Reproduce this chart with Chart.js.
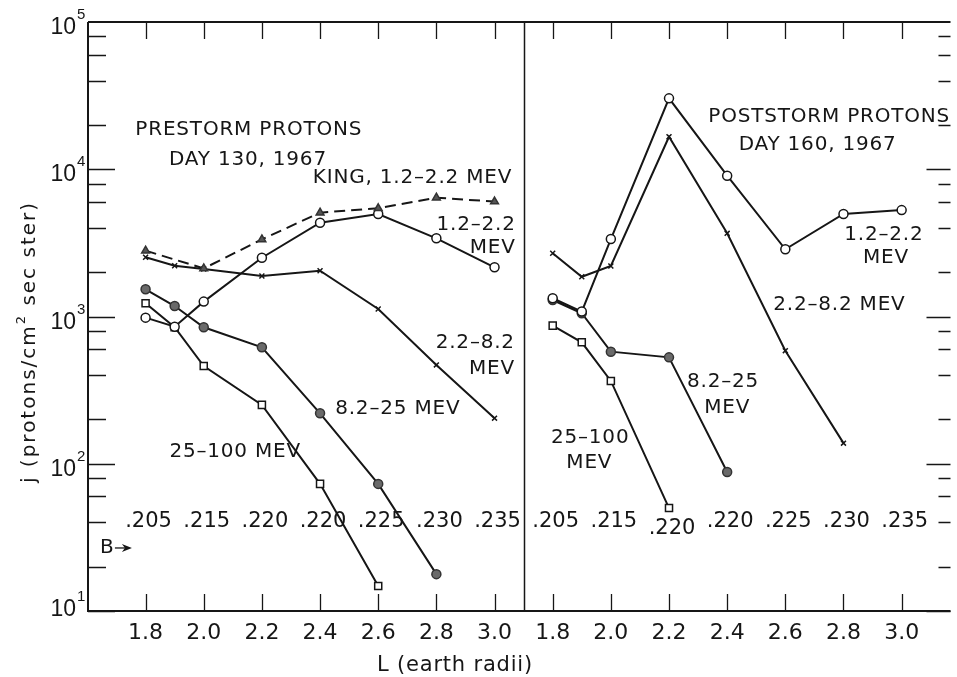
<!DOCTYPE html>
<html>
<head>
<meta charset="utf-8">
<script src="https://cdn.jsdelivr.net/npm/chart.js@4.4.1/dist/chart.umd.min.js"></script>
<style>
  html, body { margin: 0; padding: 0; background: #fff; }
  #wrap { width: 957px; height: 677px; }
</style>
</head>
<body>
<div id="wrap"><canvas id="chart" width="957" height="677"></canvas></div>
<script>
// L shells (earth radii) sampled in both panels
const shells = [1.8, 1.9, 2.0, 2.2, 2.4, 2.6, 2.8, 3.0];

// prestorm protons, day 130 1967 (null = no point)
const preKing  = [2800, null, 2120, 3340, 5070, 5430, 6410, 6030];
const pre12    = [982, 853, 1262, 2506, 4335, 4970, 3395, 2158];
const pre22    = [2523, 2213, 2103, 1885, 2047, 1125, 469, 204];
const pre82    = [1530, 1178, 845, 618, 220, 73, 17.8, null];
const pre25    = [1230, 845, 461, 251, 73, 14.8, null, null];

// poststorm protons, day 160 1967
const post12   = [1330, 1080, 3358, 30300, 9040, 2860, 4970, 5280];
const post22   = [2686, 1862, 2203, 16630, 3670, 586, 138, null];
const post82   = [1294, 1052, 577, 528, 88, null, null, null];
const post25   = [867, 668, 365, 50, null, null, null, null];

// axis ticks
const xTicks = [1.8, 2.0, 2.2, 2.4, 2.6, 2.8, 3.0];
const xTickLabels = ['1.8', '2.0', '2.2', '2.4', '2.6', '2.8', '3.0'];
const yDecades = [1, 2, 3, 4, 5];
const yMinor = [2, 4, 6, 8];

// B values printed along each panel at the ticked L shells
const bPre  = ['.205', '.215', '.220', '.220', '.225', '.230', '.235'];
const bPost = ['.205', '.215', '.220', '.220', '.225', '.230', '.235'];

// both panels share one linear axis; the right panel is shifted along it
const POST_SHIFT = 1.4;
const DIVIDER = 3.1;
const FONT = '"DejaVu Sans", sans-serif';
const NUMFONT = '"Liberation Sans", sans-serif';
const INK = '#161616';

function pts(vals, shift) {
  const out = [];
  shells.forEach((l, i) => {
    if (vals[i] != null) out.push({ x: l + shift, y: vals[i] });
  });
  return out;
}

const MARK = {
  open:   { pointStyle: 'circle', pointRadius: 4.5, pointBackgroundColor: '#fff', pointBorderColor: INK },
  filled: { pointStyle: 'circle', pointRadius: 4.5, pointBackgroundColor: '#6a6a6a', pointBorderColor: '#333' },
  cross:  { pointStyle: 'crossRot', pointRadius: 3.5, pointBackgroundColor: INK, pointBorderColor: INK },
  square: { pointStyle: 'rect', pointRadius: 5, pointBackgroundColor: '#fff', pointBorderColor: INK },
  tri:    { pointStyle: 'triangle', pointRadius: 4.5, pointBackgroundColor: '#555', pointBorderColor: '#333' }
};

function series(vals, shift, mark, dashed) {
  return Object.assign({
    data: pts(vals, shift),
    showLine: true,
    borderColor: INK,
    borderWidth: 2,
    borderDash: dashed ? [11, 6] : [],
    pointBorderWidth: 1.5,
    pointHoverRadius: 4.5,
    tension: 0
  }, MARK[mark]);
}

const datasets = [
  series(preKing, 0, 'tri', true),
  series(pre12, 0, 'open'),
  series(pre22, 0, 'cross'),
  series(pre82, 0, 'filled'),
  series(pre25, 0, 'square'),
  series(post12, POST_SHIFT, 'open'),
  series(post22, POST_SHIFT, 'cross'),
  series(post82, POST_SHIFT, 'filled'),
  series(post25, POST_SHIFT, 'square')
];

// text placed in data coordinates: u along the shared axis, lg = log10(j)
const notes = [
  { t: 'PRESTORM PROTONS', u: 2.155, lg: 4.267 },
  { t: 'DAY 130, 1967', u: 2.152, lg: 4.063 },
  { t: 'KING, 1.2–2.2 MEV', u: 2.718, lg: 3.941 },
  { t: '1.2–2.2', u: 3.073, lg: 3.621, align: 'right' },
  { t: 'MEV', u: 3.073, lg: 3.465, align: 'right' },
  { t: '2.2–8.2', u: 3.070, lg: 2.820, align: 'right' },
  { t: 'MEV', u: 3.070, lg: 2.643, align: 'right' },
  { t: '8.2–25 MEV', u: 2.452, lg: 2.372, align: 'left' },
  { t: '25–100 MEV', u: 1.882, lg: 2.080, align: 'left' },
  { t: 'POSTSTORM PROTONS', u: 3.735, lg: 4.355, align: 'left' },
  { t: 'DAY 160, 1967', u: 4.111, lg: 4.165 },
  { t: '1.2–2.2', u: 4.339, lg: 3.553 },
  { t: 'MEV', u: 4.346, lg: 3.397 },
  { t: '2.2–8.2 MEV', u: 4.186, lg: 3.078 },
  { t: '8.2–25', u: 3.786, lg: 2.555 },
  { t: 'MEV', u: 3.800, lg: 2.379 },
  { t: '25–100', u: 3.329, lg: 2.175 },
  { t: 'MEV', u: 3.326, lg: 2.005 }
];

function txt(ctx, str, px, py, align, size, spacing, family) {
  ctx.font = size + 'px ' + (family || FONT);
  ctx.letterSpacing = (spacing || 0) + 'px';
  ctx.textAlign = align || 'center';
  ctx.fillText(str, px, py);
}

// frame, inward ticks, tick labels, divider and lettering
const frame = {
  id: 'frame',
  afterDatasetsDraw(chart) {
    const { ctx, chartArea: a, scales: { x, y } } = chart;
    ctx.save();
    ctx.strokeStyle = INK;
    ctx.fillStyle = INK;
    ctx.lineCap = 'butt';

    ctx.lineWidth = 2;
    ctx.beginPath();
    ctx.moveTo(a.left, a.top);
    ctx.lineTo(a.left, a.bottom);
    ctx.lineTo(a.right, a.bottom);
    ctx.moveTo(a.left, a.top);
    ctx.lineTo(a.right, a.top);
    ctx.stroke();

    // panel divider
    const xd = Math.round(x.getPixelForValue(DIVIDER)) + 0.5;
    ctx.lineWidth = 1.5;
    ctx.beginPath();
    ctx.moveTo(xd, a.top);
    ctx.lineTo(xd, a.bottom);
    ctx.stroke();

    // x ticks, bottom and top, both panels
    ctx.lineWidth = 1.3;
    ctx.beginPath();
    [0, POST_SHIFT].forEach(s => {
      xTicks.forEach(t => {
        const px = Math.round(x.getPixelForValue(t + s)) + 0.5;
        ctx.moveTo(px, a.bottom);
        ctx.lineTo(px, a.bottom - 17);
        ctx.moveTo(px, a.top);
        ctx.lineTo(px, a.top + 17);
      });
    });
    ctx.stroke();

    // y ticks, left and right
    ctx.beginPath();
    yDecades.forEach(d => {
      if (d < 5) {
        const py = Math.round(y.getPixelForValue(Math.pow(10, d))) + 0.5;
        ctx.moveTo(a.left, py); ctx.lineTo(a.left + 27, py);
        ctx.moveTo(a.right, py); ctx.lineTo(a.right - 24, py);
        yMinor.forEach(m => {
          const pm = Math.round(y.getPixelForValue(m * Math.pow(10, d))) + 0.5;
          ctx.moveTo(a.left, pm); ctx.lineTo(a.left + 18, pm);
          ctx.moveTo(a.right, pm); ctx.lineTo(a.right - 12, pm);
        });
      }
    });
    ctx.stroke();

    // y tick labels 10^n
    ctx.textBaseline = 'alphabetic';
    yDecades.forEach(d => {
      const py = y.getPixelForValue(Math.pow(10, d));
      const base = Math.min(py + 12, a.bottom + 5);
      txt(ctx, '10', a.left - 12, base, 'right', 23, 0, NUMFONT);
      txt(ctx, String(d), a.left - 11, base - 15, 'left', 15, 0, NUMFONT);
    });

    // x tick labels
    [0, POST_SHIFT].forEach(s => {
      xTicks.forEach((t, i) => {
        txt(ctx, xTickLabels[i], x.getPixelForValue(t + s), a.bottom + 28, 'center', 22, 0);
      });
    });

    // axis titles
    txt(ctx, 'L (earth radii)', 455, 671, 'center', 21, 0.8);
    ctx.save();
    ctx.translate(30, 342);
    ctx.rotate(-Math.PI / 2);
    ctx.textBaseline = 'middle';
    ctx.font = '20px ' + FONT;
    ctx.letterSpacing = '2px';
    const left = 'j (protons/cm', sup = '2', right = ' sec ster)';
    const w1 = ctx.measureText(left).width;
    ctx.font = '13px ' + FONT;
    const w2 = ctx.measureText(sup).width;
    ctx.font = '20px ' + FONT;
    const w3 = ctx.measureText(right).width;
    let cx = -(w1 + w2 + w3) / 2;
    ctx.textAlign = 'left';
    ctx.fillText(left, cx, 0);
    cx += w1;
    ctx.font = '13px ' + FONT;
    ctx.fillText(sup, cx, -8);
    cx += w2;
    ctx.font = '20px ' + FONT;
    ctx.fillText(right, cx, 0);
    ctx.restore();

    // B values along each panel
    ctx.textBaseline = 'middle';
    xTicks.forEach((t, i) => {
      txt(ctx, bPre[i], x.getPixelForValue(t) + 3, y.getPixelForValue(Math.pow(10, 1.61)), 'center', 21, 0);
      const lg = i === 2 ? 1.562 : 1.61;
      txt(ctx, bPost[i], x.getPixelForValue(t + POST_SHIFT) + 3, y.getPixelForValue(Math.pow(10, lg)), 'center', 21, 0);
    });
    const bx = x.getPixelForValue(1.643), by = y.getPixelForValue(Math.pow(10, 1.428));
    txt(ctx, 'B', bx, by, 'left', 20, 0);
    ctx.lineWidth = 1.3;
    ctx.beginPath();
    ctx.moveTo(bx + 15, by); ctx.lineTo(bx + 27, by);
    ctx.stroke();
    ctx.beginPath();
    ctx.moveTo(bx + 32, by); ctx.lineTo(bx + 22, by - 4); ctx.lineTo(bx + 25, by); ctx.lineTo(bx + 22, by + 4);
    ctx.closePath();
    ctx.fill();

    // curve labels
    notes.forEach(n => {
      txt(ctx, n.t, x.getPixelForValue(n.u), y.getPixelForValue(Math.pow(10, n.lg)), n.align || 'center', 20, 0.8);
    });
    ctx.restore();
  }
};

new Chart(document.getElementById('chart'), {
  type: 'scatter',
  data: { datasets },
  options: {
    responsive: false,
    animation: false,
    layout: { padding: { left: 88, top: 22, right: 0, bottom: 66 } },
    plugins: { legend: { display: false }, tooltip: { enabled: false } },
    scales: {
      x: { type: 'linear', display: false, min: 1.602, max: 4.568 },
      y: { type: 'logarithmic', display: false, min: 10, max: 100000 }
    }
  },
  plugins: [frame]
});
</script>
</body>
</html>
